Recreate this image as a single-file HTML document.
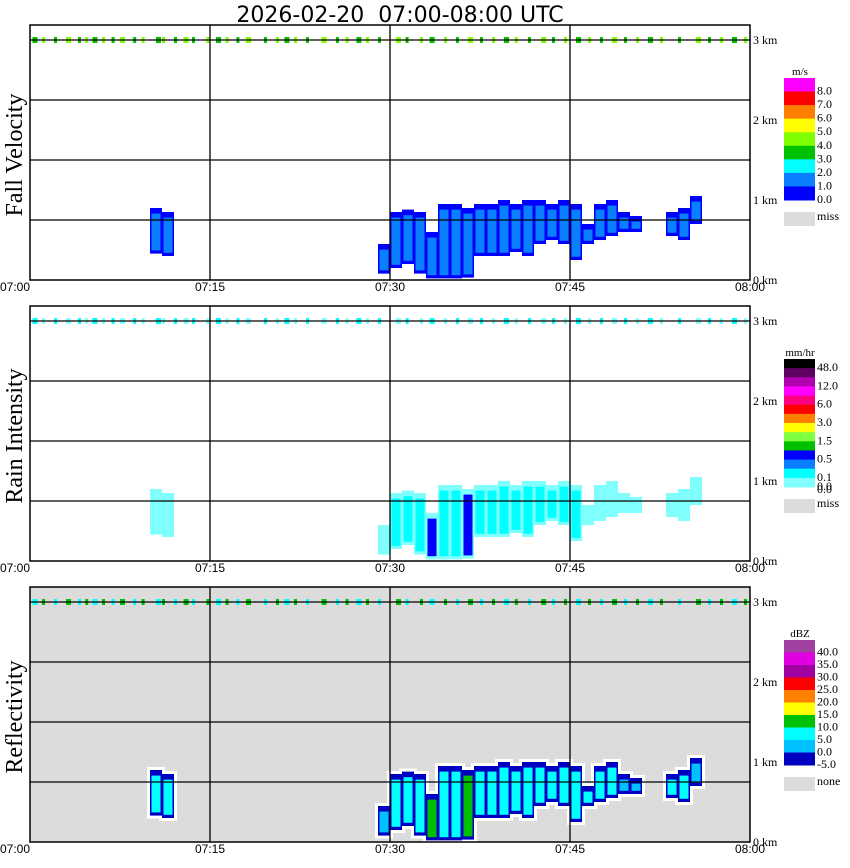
<!DOCTYPE html>
<html><head><meta charset="utf-8">
<style>
html,body{margin:0;padding:0;background:#fff;}
svg{display:block;}
</style></head>
<body>
<svg id="chart" width="850" height="868" viewBox="0 0 850 868" xmlns="http://www.w3.org/2000/svg">
<text x="400" y="22" text-anchor="middle" font-family="DejaVu Sans, sans-serif" font-size="22" style="white-space:pre">2026-02-20  07:00-08:00 UTC</text>
</svg>
<script>
// ---- data (per-minute echo columns) ----
const minutes   = [10,11,29,30,31,32,33,34,35,36,37,38,39,40,41,42,43,44,45,46,47,48,49,50,53,54,55];
const echoTopKm = [0.9,0.85,0.45,0.85,0.88,0.85,0.6,0.95,0.95,0.9,0.95,0.95,1.0,0.95,1.0,1.0,0.95,1.0,0.95,0.7,0.95,1.0,0.85,0.8,0.85,0.9,1.05];
const echoBaseKm= [0.33,0.3,0.08,0.15,0.2,0.08,0.02,0.02,0.02,0.03,0.3,0.3,0.3,0.35,0.3,0.45,0.5,0.45,0.25,0.45,0.5,0.55,0.6,0.6,0.55,0.5,0.7];
const fallVel   = [1.2,1.3,1.1,1.4,1.5,1.3,1.6,1.5,1.6,1.5,1.2,1.3,1.4,1.2,1.3,1.3,1.4,1.2,1.5,1.1,1.2,1.2,1.1,1.0,1.1,1.1,1.0];
const rainRate  = [0.05,0.05,0.05,0.15,0.2,0.1,0.7,0.15,0.2,0.7,0.1,0.15,0.15,0.1,0.15,0.1,0.1,0.1,0.1,0.05,0.05,0.05,0.05,0.05,0.05,0.05,0.05];
const reflect   = [6,5,4,7,8,7,11,6,7,11,6,7,6,6,7,6,6,6,7,5,5,5,4,4,5,5,4];
const topMarkMin= [0.2,1,2,3,4,4.6,5.2,6,6.8,7.5,8.6,9.3,10.5,11,12,12.8,13.5,14.7,15.5,16.3,17.2,18,19.5,20.5,21.2,22,23,24.3,25.5,26.3,27.2,28,29,30.5,31.3,32.5,33.3,34.5,35.5,36.5,37.5,38.5,39.5,40.4,41.5,42.6,43.5,44.5,45.5,46.5,47.5,48.5,49.5,50.5,51.5,52.5,54,55.5,56.5,57.5,58.5,59.5];
const xTickLabels = ["07:00","07:15","07:30","07:45","08:00"];
const yTickLabels = ["3 km","2 km","1 km","0 km"];
const yTickKm = [3,2,1,0];

const NS="http://www.w3.org/2000/svg";
const svg=document.getElementById('chart');
function mk(tag,attrs,parent){const e=document.createElementNS(NS,tag);for(const k in attrs)e.setAttribute(k,attrs[k]);(parent||svg).appendChild(e);return e;}
const X0=30,X1=750;
function xOf(m){return X0+m/60*(X1-X0);}

function velColor(v){const c=['#0000ff','#0a7fff','#00ffff','#00c000','#80ff00','#ffff00','#ff8000','#ff0000','#ff00ff'];return c[Math.min(8,Math.max(0,Math.floor(v)))];}
function rainColor(r){if(r<0.1)return '#80ffff';if(r<0.3)return '#00ffff';if(r<0.5)return '#0a7fff';if(r<1)return '#0000ff';return '#00c000';}
function dbzColor(d){if(d<0)return '#0000c0';if(d<5)return '#00c0ff';if(d<10)return '#00ffff';if(d<15)return '#00c000';return '#ffff00';}

const panels=[
 {top:25,name:'fall-velocity',title:'Fall Velocity',bg:'#fff',unit:'m/s',
  legend:[['#ff00ff','8.0'],['#ff0000','7.0'],['#ff8000','6.0'],['#ffff00','5.0'],['#80ff00','4.0'],['#00c000','3.0'],['#00ffff','2.0'],['#0a7fff','1.0'],['#0000ff','0.0']],miss:'miss',
  edge:'#0000ff',core:i=>velColor(fallVel[i]),marks:['#00c000','#80ff00']},
 {top:306,name:'rain-intensity',title:'Rain Intensity',bg:'#fff',unit:'mm/hr',
  legend:[['#000000','48.0'],['#600060',''],['#b000b0','12.0'],['#ff00ff',''],['#ff0080','6.0'],['#ff0000',''],['#ff8000','3.0'],['#ffff00',''],['#80ff40','1.5'],['#00c000',''],['#0000ff','0.5'],['#0a7fff',''],['#00ffff','0.1'],['#80ffff','0.0']],miss:'miss',
  edge:'#80ffff',core:i=>rainColor(rainRate[i]),marks:['#00ffff','#80ffff']},
 {top:587,name:'reflectivity',title:'Reflectivity',bg:'#dcdcdc',unit:'dBZ',
  legend:[['#a040a0','40.0'],['#e000e0','35.0'],['#a000a0','30.0'],['#ff0000','25.0'],['#ff8000','20.0'],['#ffff00','15.0'],['#00c000','10.0'],['#00ffff','5.0'],['#00c0ff','0.0'],['#0000c0','-5.0']],miss:'none',
  edge:'#0000c0',core:i=>dbzColor(reflect[i]),marks:['#00ffff','#00c000']}
];

panels.forEach((p,pi)=>{
  const g=mk('g',{});
  
  
  const bottom=p.top+255, km0=bottom, pxKm=80;
  const yOf=k=>km0-k*pxKm;
  mk('rect',{x:X0,y:p.top,width:X1-X0,height:255,fill:p.bg},g);
  if(pi===2){
    minutes.forEach((m,i)=>{
      const x=xOf(m),w=12;
      mk('rect',{x:x-3,y:yOf(echoTopKm[i])-3,width:w+6,height:(echoTopKm[i]-echoBaseKm[i])*pxKm+6,fill:'#fff'},g);
    });
  }
  minutes.forEach((m,i)=>{
    const x=xOf(m),w=12;
    const col=mk('rect',{x:x,y:yOf(echoTopKm[i]),width:w,height:(echoTopKm[i]-echoBaseKm[i])*pxKm,fill:p.edge},g);
    
    
    const t=echoTopKm[i]-0.07,b=echoBaseKm[i]+0.04;
    if(t>b){
      const c=mk('rect',{x:x+1.5,y:yOf(t),width:w-3,height:(t-b)*pxKm,fill:p.core(i)},g);
      
      
    }
  });
  topMarkMin.forEach((m,i)=>{
    const r=mk('rect',{x:xOf(m),y:yOf(3)-3,width:(i%3===0?5:3),height:6,fill:p.marks[i%2]},g);
    
    
  });
  [40,100,160,220].forEach(dy=>mk('line',{x1:X0,x2:X1,y1:p.top+dy-25,y2:p.top+dy-25,stroke:'#000','stroke-width':1.3},g));
  [15,30,45].forEach(m=>mk('line',{x1:xOf(m),x2:xOf(m),y1:p.top,y2:bottom,stroke:'#000','stroke-width':1.3},g));
  mk('rect',{x:X0,y:p.top,width:X1-X0,height:255,fill:'none',stroke:'#000','stroke-width':1.5},g);
  yTickLabels.forEach((l,i)=>{const t=mk('text',{x:753,y:yOf(yTickKm[i])+4,'font-family':'Liberation Serif, serif','font-size':12},g);t.textContent=l;
    
    });
  xTickLabels.forEach((l,i)=>{const x=xOf(i*15);const t=mk('text',{x:i===0?0:x,y:bottom+11,'text-anchor':i===0?'start':'middle','font-family':'Liberation Sans, sans-serif','font-size':12},g);t.textContent=l;
    
    });
  const cy=p.top+130;
  const at=mk('text',{x:22,y:cy,transform:`rotate(-90 22 ${cy})`,'text-anchor':'middle','font-family':'Liberation Serif, serif','font-size':24},g);
  at.textContent=p.title;
  
  
  const lg=mk('g',{},g);
  
  
  const ltop=p.top+53, lbot=p.top+(pi===0?175:pi===1?181:178);
  const seg=(lbot-ltop)/p.legend.length;
  const u=mk('text',{x:800,y:ltop-3,'text-anchor':'middle','font-family':'Liberation Serif, serif','font-size':11},lg);u.textContent=p.unit;
  p.legend.forEach((e,i)=>{
    mk('rect',{x:784,y:ltop+i*seg,width:31,height:seg+0.5,fill:e[0]},lg);
    if(e[1]){const t=mk('text',{x:817,y:ltop+i*seg+seg+3,'font-family':'Liberation Serif, serif','font-size':12},lg);t.textContent=e[1];}
  });
  if(pi===1){const t=mk('text',{x:817,y:lbot+6,'font-family':'Liberation Serif, serif','font-size':12},lg);t.textContent='0.0';}
  mk('rect',{x:784,y:lbot+12,width:31,height:14,fill:'#dcdcdc'},lg);
  const ms=mk('text',{x:817,y:lbot+20,'font-family':'Liberation Serif, serif','font-size':12},lg);ms.textContent=p.miss;
});
</script>
</body></html>
